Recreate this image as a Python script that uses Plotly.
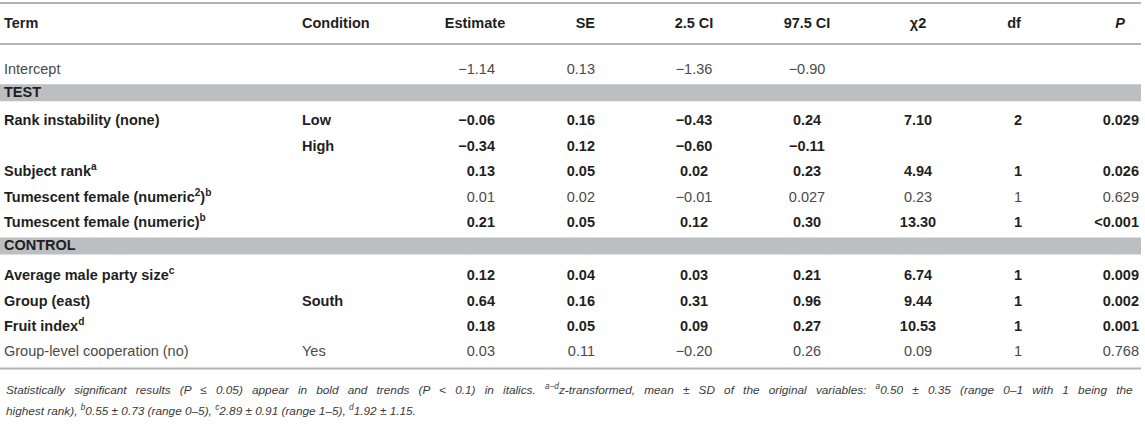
import plotly.graph_objects as go

# ---------------- data ----------------
headers = ["Term", "Condition", "Estimate", "SE", "2.5 CI", "97.5 CI", "χ2", "df", "<i>P</i>"]
terms = ["Intercept", "Rank instability (none)", "", "Subject rank<sup>a</sup>",
         "Tumescent female (numeric<sup>2</sup>)<sup>b</sup>",
         "Tumescent female (numeric)<sup>b</sup>",
         "Average male party size<sup>c</sup>", "Group (east)", "Fruit index<sup>d</sup>",
         "Group-level cooperation (no)"]
conditions = ["", "Low", "High", "", "", "", "", "South", "", "Yes"]
estimate = [-1.14, -0.06, -0.34, 0.13, 0.01, 0.21, 0.12, 0.64, 0.18, 0.03]
se = [0.13, 0.16, 0.12, 0.05, 0.02, 0.05, 0.04, 0.16, 0.05, 0.11]
ci_low = [-1.36, -0.43, -0.60, 0.02, -0.01, 0.12, 0.03, 0.31, 0.09, -0.20]
ci_high = [-0.90, 0.24, -0.11, 0.23, 0.027, 0.30, 0.21, 0.96, 0.27, 0.26]
chi2 = [None, 7.10, None, 4.94, 0.23, 13.30, 6.74, 9.44, 10.53, 0.09]
df = [None, 2, None, 1, 1, 1, 1, 1, 1, 1]
p_values = ["", "0.029", "", "0.026", "0.629", "<0.001", "0.009", "0.002", "0.001", "0.768"]
term_bold = [False, True, True, True, True, True, True, True, True, False]
value_bold = [False, True, True, True, False, True, True, True, True, False]
sections = ["TEST", "CONTROL"]
section_before_row = [1, 6]
footnote_lines = [
    "Statistically significant results (P ≤ 0.05) appear in bold and trends (P &lt; 0.1) in italics. "
    "<sup>a−d</sup>z-transformed, mean ± SD of the original variables: <sup>a</sup>0.50 ± 0.35 "
    "(range 0–1 with 1 being the",
    "highest rank), <sup>b</sup>0.55 ± 0.73 (range 0–5), <sup>c</sup>2.89 ± 0.91 (range 1–5), "
    "<sup>d</sup>1.92 ± 1.15.",
]
footnote_justified = [True, False]

# ---------------- styling / layout ----------------
W, H = 1145, 430
FONT = "Liberation Sans, Arial, Helvetica, sans-serif"
FS = 14.5
FOOT_FS = 11.8
DARK = "#1f1f1f"
NORMAL = "#4a4a4a"
RULE = "#b4b4b6"
BAND = "#bcbec1"
TABLE_RIGHT = 1141

# column anchors: (x, align for values, x for header, align for header)
cols = {
    "term": (4, "left", 4, "left"),
    "cond": (302, "left", 302, "left"),
    "est": (495, "right", 475, "center"),
    "se": (595, "right", 595, "right"),
    "cil": (694, "center", 694, "center"),
    "cih": (807, "center", 807, "center"),
    "chi": (918, "center", 918, "center"),
    "df": (1018, "center", 1014, "center"),
    "p": (1139, "right", 1120, "center"),
}
POS = {"left": "middle right", "right": "middle left", "center": "middle center"}

TOP_RULE, HEADER_Y, HEADER_RULE = 3, 24, 44
PITCH, BAND_H = 25.45, 17
PAD_FIRST, PAD_AFTER_BAND, GAP_BEFORE_BAND = 12.3, 6.3, 2.6
EXTRA_PAD_SECOND_BLOCK = 1.5
TEXT_SHIFT = 1.5

# compute row centres and band positions
row_y = []
band_spans = []
cursor = HEADER_RULE + PAD_FIRST
for i in range(len(terms)):
    if i in section_before_row:
        b0 = cursor + GAP_BEFORE_BAND
        band_spans.append((b0, b0 + BAND_H))
        cursor = b0 + BAND_H + PAD_AFTER_BAND
        if len(band_spans) > 1:
            cursor += EXTRA_PAD_SECOND_BLOCK
    row_y.append(cursor + PITCH / 2 + TEXT_SHIFT)
    cursor += PITCH
bottom_rule = cursor + 4.5


def fmt(v):
    if v is None:
        return ""
    s = f"{abs(v):.3f}".rstrip("0")
    whole, dec = s.split(".")
    dec = dec.ljust(2, "0")
    return ("−" if v < 0 else "") + whole + "." + dec


def style(text, bold):
    if text == "":
        return ""
    return f"<b>{text}</b>" if bold else text


columns = [
    ("term", [style(t, b) for t, b in zip(terms, term_bold)]),
    ("cond", [style(c, b) for c, b in zip(conditions, value_bold)]),
    ("est", [style(fmt(v), b) for v, b in zip(estimate, value_bold)]),
    ("se", [style(fmt(v), b) for v, b in zip(se, value_bold)]),
    ("cil", [style(fmt(v), b) for v, b in zip(ci_low, value_bold)]),
    ("cih", [style(fmt(v), b) for v, b in zip(ci_high, value_bold)]),
    ("chi", [style(fmt(v), b) for v, b in zip(chi2, value_bold)]),
    ("df", [style("" if v is None else str(v), b) for v, b in zip(df, value_bold)]),
    ("p", [style(v.replace("<", "&lt;"), b) for v, b in zip(p_values, value_bold)]),
]

fig = go.Figure()

# body cells
for key, texts in columns:
    x, align, _, _ = cols[key]
    bold_flags = term_bold if key == "term" else value_bold
    fig.add_trace(go.Scatter(
        x=[x] * len(texts), y=row_y, text=texts, mode="text",
        textposition=POS[align],
        textfont=dict(family=FONT, size=FS,
                      color=[DARK if b else NORMAL for b in bold_flags]),
        hoverinfo="skip", showlegend=False, cliponaxis=False))

# header cells
keys = list(cols.keys())
for key, h in zip(keys, headers):
    _, _, hx, halign = cols[key]
    fig.add_trace(go.Scatter(
        x=[hx], y=[HEADER_Y], text=[f"<b>{h}</b>"], mode="text",
        textposition=POS[halign],
        textfont=dict(family=FONT, size=FS, color=DARK),
        hoverinfo="skip", showlegend=False, cliponaxis=False))

shapes = []
for y in (TOP_RULE, HEADER_RULE, bottom_rule):
    shapes.append(dict(type="line", xref="x", yref="y", x0=0, x1=TABLE_RIGHT, y0=y, y1=y,
                       line=dict(color=RULE, width=2), layer="below"))
for (b0, b1), label in zip(band_spans, sections):
    shapes.append(dict(type="rect", xref="x", yref="y", x0=0, x1=TABLE_RIGHT, y0=b0, y1=b1,
                       fillcolor=BAND, line=dict(width=0), layer="below"))
    fig.add_trace(go.Scatter(
        x=[4], y=[(b0 + b1) / 2 + 0.5], text=[f"<b>{label}</b>"], mode="text",
        textposition="middle right",
        textfont=dict(family=FONT, size=FS, color=DARK),
        hoverinfo="skip", showlegend=False, cliponaxis=False))

# footnote (first line justified by widening the word gaps)
annotations = []
for i, (line, just) in enumerate(zip(footnote_lines, footnote_justified)):
    text = " \u2002".join(line.split(" ")) if just else line
    annotations.append(dict(
        x=4, y=bottom_rule + 20.5 + i * 21, xref="x", yref="y", xanchor="left", yanchor="middle",
        text=f"<i>{text}</i>", showarrow=False,
        font=dict(family=FONT, size=FOOT_FS, color="#3a3a3a")))

fig.update_layout(
    width=W, height=H,
    margin=dict(l=0, r=0, t=0, b=0),
    paper_bgcolor="white", plot_bgcolor="white",
    xaxis=dict(range=[0, W], visible=False, fixedrange=True),
    yaxis=dict(range=[H, 0], visible=False, fixedrange=True),
    shapes=shapes, annotations=annotations,
)

fig.write_html(
    "out.html",
    config={"displayModeBar": False, "staticPlot": True},
    post_script="document.body.style.margin='0';document.body.style.overflow='hidden';",
)
